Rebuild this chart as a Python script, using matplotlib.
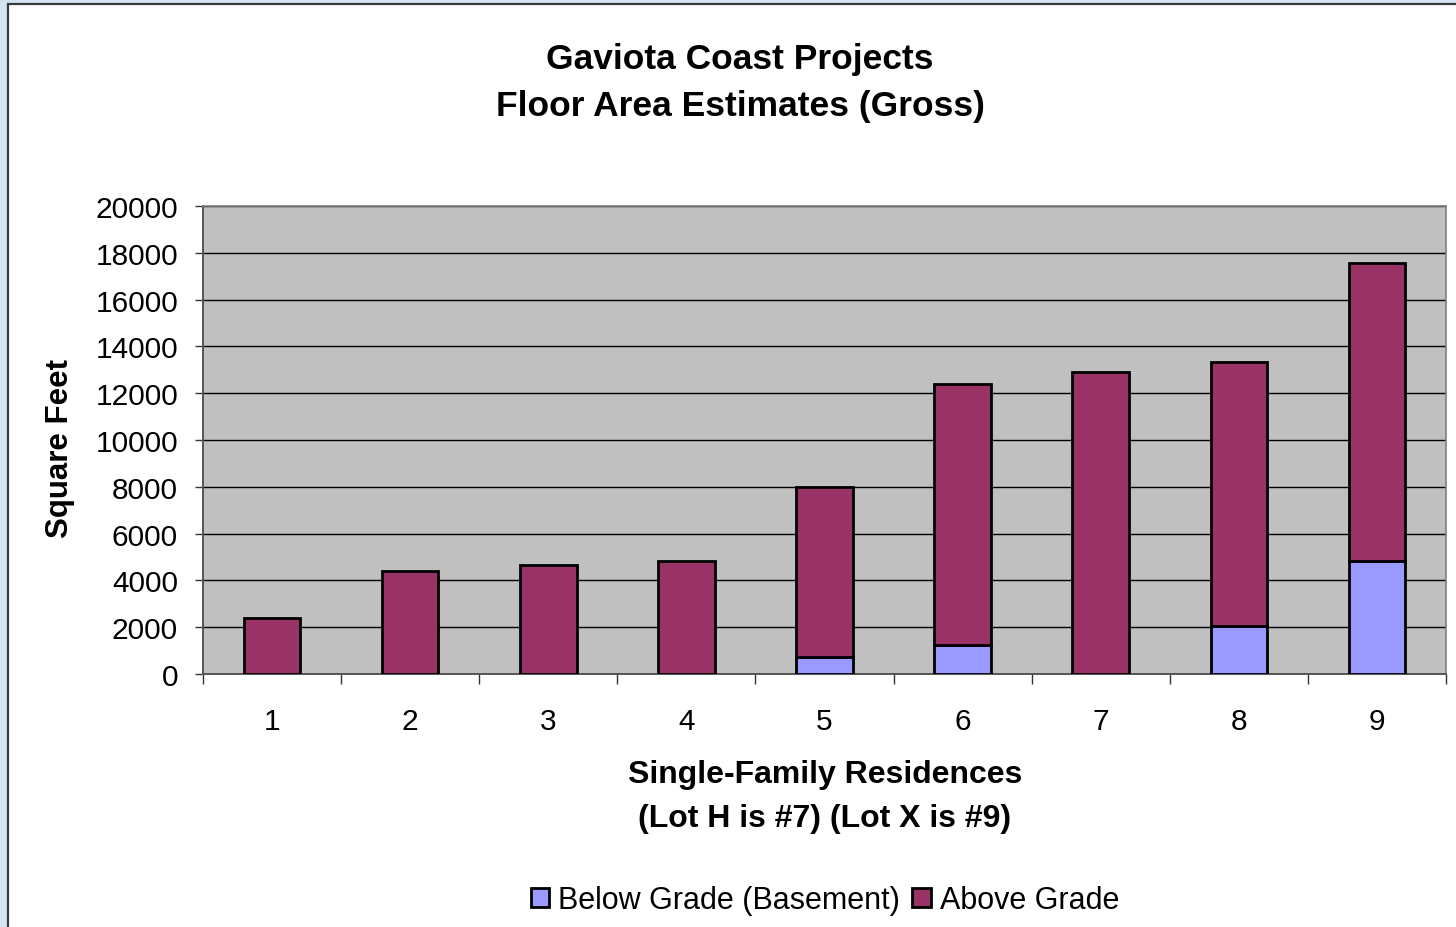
import numpy as np
import matplotlib
matplotlib.use("Agg")
import matplotlib.pyplot as plt
from matplotlib.patches import Rectangle

# --- datos ---
lots = [1, 2, 3, 4, 5, 6, 7, 8, 9]
below_grade = [0, 0, 0, 0, 735, 1230, 0, 2045, 4820]
above_grade = [2372, 4423, 4637, 4838, 7275, 11180, 12910, 11280, 12753]
y_ticks = [0, 2000, 4000, 6000, 8000, 10000, 12000, 14000, 16000, 18000, 20000]

COL_BELOW = "#9999FF"
COL_ABOVE = "#993366"
FONT = "Liberation Sans"

plt.rcParams["font.family"] = [FONT, "DejaVu Sans"]

W, H = 1456, 928
fig = plt.figure(figsize=(W / 100, H / 100), dpi=100)
fig.patch.set_facecolor("#D5E2F0")

# marco blanco del grafico (detras de todo)
frame = Rectangle((8 / W, -0.05), 1.1, 1 - 5 / H + 0.05, transform=fig.transFigure,
                  facecolor="white", edgecolor="#3A3A3A", linewidth=1.6, zorder=-10)
fig.patches.append(frame)

ax = fig.add_axes([203 / W, 1 - 675 / H, (1446 - 203) / W, (675 - 207) / H])
ax.set_facecolor("#C0C0C0")
ax.set_zorder(1)

x = np.array(lots)
ax.bar(x, below_grade, width=0.41, color=COL_BELOW, edgecolor="black", linewidth=2.0,
       label="Below Grade (Basement)", zorder=3)
ax.bar(x, above_grade, width=0.41, bottom=below_grade, color=COL_ABOVE, edgecolor="black",
       linewidth=2.0, label="Above Grade", zorder=3)

ax.set_xlim(0.5, 9.5)
ax.set_ylim(0, 20000)
ax.set_yticks(y_ticks)
ax.set_yticklabels([str(v) for v in y_ticks], fontsize=21.5)
ax.yaxis.grid(True, color="black", linewidth=1.0, zorder=1)
ax.set_axisbelow(True)
ax.tick_params(axis="y", length=6, width=1, color="#333333", pad=12)

# ticks en los limites de categoria, etiquetas en el centro
ax.set_xticks(np.arange(0.5, 10, 1))
ax.set_xticklabels([])
ax.set_xticks(x, minor=True)
ax.set_xticklabels([str(v) for v in lots], minor=True, fontsize=21.5)
ax.tick_params(axis="x", which="major", length=7, width=1, color="#333333")
ax.tick_params(axis="x", which="minor", length=0, pad=24)

for side in ["top", "right"]:
    ax.spines[side].set_color("#808080")
    ax.spines[side].set_linewidth(1.2)
for side in ["left", "bottom"]:
    ax.spines[side].set_color("#555555")
    ax.spines[side].set_linewidth(1.4)

fig.text(740 / W, 1 - 83 / H, "Gaviota Coast Projects\nFloor Area Estimates (Gross)",
         ha="center", va="center", fontsize=25.5, fontweight="bold", linespacing=1.55)
fig.text(825 / W, 1 - 797 / H, "Single-Family Residences\n(Lot H is #7) (Lot X is #9)",
         ha="center", va="center", fontsize=23, fontweight="bold", linespacing=1.6)
fig.text(60 / W, 1 - 448 / H, "Square Feet", rotation=90, ha="center", va="center",
         fontsize=22.5, fontweight="bold")

leg = fig.legend(loc="center", bbox_to_anchor=(825 / W, 1 - 901 / H), ncol=2, frameon=False,
                 fontsize=22, handlelength=0.6, handleheight=0.6, handletextpad=0.3,
                 columnspacing=0.4)

fig.savefig("out.png", dpi=100, facecolor=fig.get_facecolor())
